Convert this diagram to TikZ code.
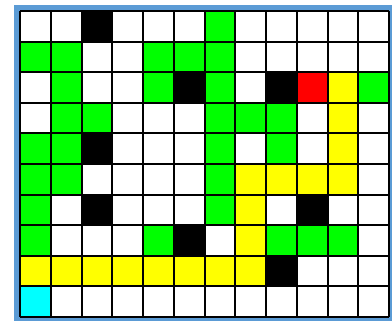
\documentclass[tikz,border=0pt]{standalone}
\usepackage{tikz}
\definecolor{framecolor}{RGB}{91,155,213}
\definecolor{freecolor}{RGB}{0,255,0}
\definecolor{pathcolor}{RGB}{255,255,0}
\definecolor{goalcolor}{RGB}{255,0,0}
\definecolor{startcolor}{RGB}{0,255,255}
\definecolor{wallcolor}{RGB}{0,0,0}
\tikzset{
gridline/.style={
  draw=black,
  line width=2pt
}
}
\newcommand{\cellw}{30.75}
\newcommand{\cellh}{30.6}
% fill cell (column, row) counted from top left
\newcommand{\gridcell}[3]{%
  \fill[#1] ({20+#2*\cellw},{11+#3*\cellh}) rectangle ++(\cellw,\cellh);}

\begin{document}
\begin{tikzpicture}[x=1pt,y=-1pt]
        \useasboundingbox (0,0) rectangle (392,321);
        \fill[white] (0,0) rectangle (392,321);
        \fill[framecolor] (14,5) rectangle (392,321);
        \fill[white] (20,11) rectangle (389,317);
        % obstacles
        \foreach \c/\r in {2/0,5/2,8/2,2/4,2/6,9/6,5/7,8/8}
          {\gridcell{wallcolor}{\c}{\r}}
        % visited cells
        \foreach \c/\r in {6/0,0/1,1/1,4/1,5/1,6/1,1/2,4/2,6/2,11/2,
                           1/3,2/3,6/3,7/3,8/3,0/4,1/4,6/4,8/4,0/5,1/5,6/5,
                           0/6,6/6,0/7,4/7,8/7,9/7,10/7}
          {\gridcell{freecolor}{\c}{\r}}
        % path
        \foreach \c/\r in {10/2,10/3,10/4,7/5,8/5,9/5,10/5,7/6,7/7,
                           0/8,1/8,2/8,3/8,4/8,5/8,6/8,7/8}
          {\gridcell{pathcolor}{\c}{\r}}
        \gridcell{goalcolor}{9}{2}
        \gridcell{startcolor}{0}{9}
        % grid
        \foreach \i in {0,...,12}
          \draw[gridline] ({20+\i*\cellw},11) -- ({20+\i*\cellw},317);
        \foreach \j in {0,...,10}
          \draw[gridline] (20,{11+\j*\cellh}) -- (389,{11+\j*\cellh});
      \end{tikzpicture}
\end{document}
